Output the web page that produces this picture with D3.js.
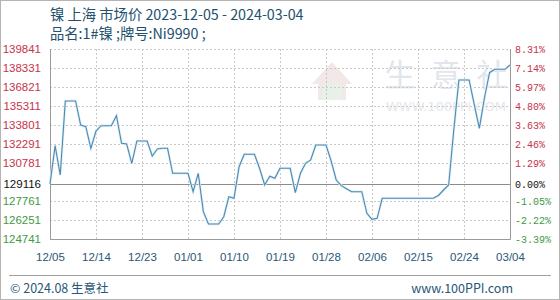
<!DOCTYPE html>
<html>
<head>
<meta charset="utf-8">
<script src="https://cdn.jsdelivr.net/npm/d3@7"></script>
<style>
  body { margin: 0; background: #fff; }
  svg { display: block; }
  .xaxis text { fill: #2a5777; font-family: "Liberation Sans", sans-serif; font-size: 11.5px; }
  .grid line { stroke: #c8c8c8; stroke-dasharray: 2,2; }
</style>
</head>
<body>
<div id="main-chart"></div>
<script>
// 镍 上海 市场价, one reading per calendar day (weekends repeat the Friday price)
var startDate = "2023-12-05";
var endDate = "2024-03-04";
var basePrice = 129116;

var prices = [
  129116, 132156, 129828, 135709, 135709, 135709, 133801, 133666, 131950, 133324,
  133746, 133746, 133746, 134540, 132347, 132291, 130757, 132530, 132530, 132530,
  131338, 131894, 131950, 131950, 129963, 129963, 129963, 129963, 128500, 129963,
  126911, 125934, 125934, 125934, 126514, 128103, 127976, 130487, 131472, 131472,
  131472, 130360, 129036, 129725, 129566, 130360, 130360, 130360, 128420, 129963,
  130757, 131020, 132212, 132212, 132212, 130950, 129430, 128982, 128740, 128500,
  128500, 128500, 126785, 126308, 126387, 127976, 127976, 127976, 127976, 127976,
  127976, 127976, 127976, 127976, 127976, 127976, 128200, 128635, 129036, 133400,
  137378, 137378, 137378, 135446, 133539, 135947, 137957, 138228, 138228, 138228,
  138570
];

// Axis ticks
var yTicks = [124741, 126251, 127761, 129116, 130781, 132291, 133801, 135311, 136821, 138331, 139841];
var pctLabels = ["-3.39%", "-2.22%", "-1.05%", "0.00%", "1.29%", "2.46%", "3.63%", "4.80%", "5.97%", "7.14%", "8.31%"];
var xTicks = ["2023-12-05", "2023-12-14", "2023-12-23", "2024-01-01", "2024-01-10", "2024-01-19",
  "2024-01-28", "2024-02-06", "2024-02-15", "2024-02-24", "2024-03-04"];

var titleText = "镍 上海 市场价 2023-12-05 - 2024-03-04";
var subTitleText = "品名:1#镍 ;牌号:Ni9990 ;";
var watermarkChars = ["生", "意", "社"];

var parseDate = d3.timeParse("%Y-%m-%d");
var days = d3.timeDay.range(parseDate(startDate), d3.timeDay.offset(parseDate(endDate), 1));
var data = days.map(function(d, i) { return { date: d, price: prices[i] }; });

var W = 560, H = 300;
var margin = { top: 49, right: 50, bottom: 61, left: 50 },
  width = W - margin.left - margin.right,
  height = H - margin.top - margin.bottom;

var red = "#c8324a", green = "#3f9a45", dark = "#111";
function tickColor(v) { return v > basePrice ? red : (v < basePrice ? green : dark); }

var xScale = d3.scaleTime()
  .domain([parseDate(startDate), parseDate(endDate)])
  .range([0, width]);

var yScale = d3.scaleLinear()
  .domain([yTicks[0], yTicks[yTicks.length - 1]])
  .range([height, 0]);

var svg = d3.select("#main-chart")
  .append("svg")
  .attr("width", W)
  .attr("height", H);

// outer frame
svg.append("rect")
  .attr("x", 0.5).attr("y", 0.5)
  .attr("width", W - 1).attr("height", H - 1)
  .attr("fill", "none")
  .attr("stroke", "#b4b4b4");

// watermark
var wm = svg.append("g").attr("class", "watermark");
wm.selectAll(".wm-char")
  .data(watermarkChars)
  .enter()
  .append("text")
  .attr("class", "wm-char")
  .attr("x", function(d, i) { return 400 + i * 46; })
  .attr("y", 86)
  .attr("text-anchor", "middle")
  .style("font-family", "'Noto Sans CJK SC', sans-serif")
  .style("font-size", "31px")
  .attr("fill", "#e2e6ec")
  .text(function(d) { return d; });
wm.append("text")
  .attr("x", 446).attr("y", 111)
  .attr("text-anchor", "middle")
  .attr("textLength", 120)
  .style("font-family", "'DejaVu Sans', sans-serif")
  .style("font-size", "13px")
  .attr("fill", "#e4e7ec")
  .text("WWW.100PPI.COM");
wm.append("path")
  .attr("d", "M312,84 L332,62 L352,84 L346,84 L346,100 L318,100 L318,84 Z")
  .attr("fill", "#f3e8e8");
wm.append("rect")
  .attr("x", 322).attr("y", 84).attr("width", 20).attr("height", 16)
  .attr("fill", "#e8f1e8");

var g = svg.append("g")
  .attr("transform", "translate(" + margin.left + "," + margin.top + ")");

// horizontal grid
g.append("g")
  .attr("class", "grid")
  .selectAll("line")
  .data(yTicks.filter(function(v) { return v !== basePrice; }))
  .enter()
  .append("line")
  .attr("x1", 0).attr("x2", width)
  .attr("y1", function(d) { return Math.round(yScale(d)) + 0.5; })
  .attr("y2", function(d) { return Math.round(yScale(d)) + 0.5; });

// vertical grid
g.append("g")
  .attr("class", "grid")
  .selectAll("line")
  .data(xTicks.slice(1, -1))
  .enter()
  .append("line")
  .attr("y1", 0).attr("y2", height)
  .attr("x1", function(d) { return Math.round(xScale(parseDate(d))) + 0.5; })
  .attr("x2", function(d) { return Math.round(xScale(parseDate(d))) + 0.5; });

// base price line
g.append("line")
  .attr("x1", 0).attr("x2", width)
  .attr("y1", Math.round(yScale(basePrice)) + 0.5)
  .attr("y2", Math.round(yScale(basePrice)) + 0.5)
  .attr("stroke", "#8c8c8c");

// frame: left, bottom, right solid
g.append("path")
  .attr("d", "M0.5,0 V" + (height + 0.5) + " H" + (width + 0.5) + " V0")
  .attr("fill", "none")
  .attr("stroke", "#9a9a9a");

// price line
var lineGenerator = d3.line()
  .x(function(d) { return xScale(d.date); })
  .y(function(d) { return yScale(d.price); });

g.append("path")
  .datum(data)
  .attr("fill", "none")
  .attr("stroke", "#e0eef6")
  .attr("stroke-width", 2.6)
  .attr("d", lineGenerator);

g.append("path")
  .datum(data)
  .attr("fill", "none")
  .attr("stroke", "#4a8ab3")
  .attr("stroke-width", 1.1)
  .attr("d", lineGenerator);

// left axis: prices
var yAxisLeft = g.append("g")
  .call(d3.axisLeft(yScale).tickValues(yTicks).tickSize(0).tickPadding(9).tickFormat(d3.format("d")));
yAxisLeft.select(".domain").remove();
yAxisLeft.selectAll("text")
  .style("font-family", "'Liberation Sans', sans-serif")
  .style("font-size", "11.5px")
  .attr("fill", function(d) { return tickColor(d); });

// right axis: percent change
var yAxisRight = g.append("g")
  .attr("transform", "translate(" + width + ",0)")
  .call(d3.axisRight(yScale).tickValues(yTicks).tickSize(0).tickPadding(5)
    .tickFormat(function(d, i) { return pctLabels[i]; }));
yAxisRight.select(".domain").remove();
yAxisRight.selectAll("text")
  .style("font-family", "'Liberation Mono', monospace")
  .style("font-size", "10px")
  .attr("fill", function(d) { return tickColor(d); });

// bottom axis: dates
var xAxis = g.append("g")
  .attr("class", "xaxis")
  .attr("transform", "translate(0," + height + ")")
  .call(d3.axisBottom(xScale).tickValues(xTicks.map(parseDate)).tickSize(0).tickPadding(14)
    .tickFormat(d3.timeFormat("%m/%d")));
xAxis.select(".domain").remove();

// titles
svg.append("text")
  .attr("x", 50).attr("y", 20)
  .style("font-family", "'Noto Sans CJK SC', sans-serif")
  .style("font-size", "14.3px")
  .attr("fill", "#22506e")
  .text(titleText);

svg.append("text")
  .attr("x", 50).attr("y", 39)
  .style("font-family", "'Noto Sans CJK SC', sans-serif")
  .style("font-size", "14.3px")
  .attr("fill", "#22506e")
  .text(subTitleText);

// footer
svg.append("line")
  .attr("x1", 9).attr("x2", 551)
  .attr("y1", 275.5).attr("y2", 275.5)
  .attr("stroke", "#a0a0a0");

svg.append("text")
  .attr("x", 10).attr("y", 293)
  .style("font-family", "'Noto Sans CJK SC', sans-serif")
  .style("font-size", "12.5px")
  .attr("fill", "#2a5777")
  .text("© 2024.08 生意社");

svg.append("text")
  .attr("x", 513).attr("y", 293)
  .attr("text-anchor", "end")
  .style("font-family", "'Noto Sans CJK SC', sans-serif")
  .style("font-size", "12.5px")
  .attr("fill", "#2a5777")
  .text("www.100PPI.com");
</script>
</body>
</html>
